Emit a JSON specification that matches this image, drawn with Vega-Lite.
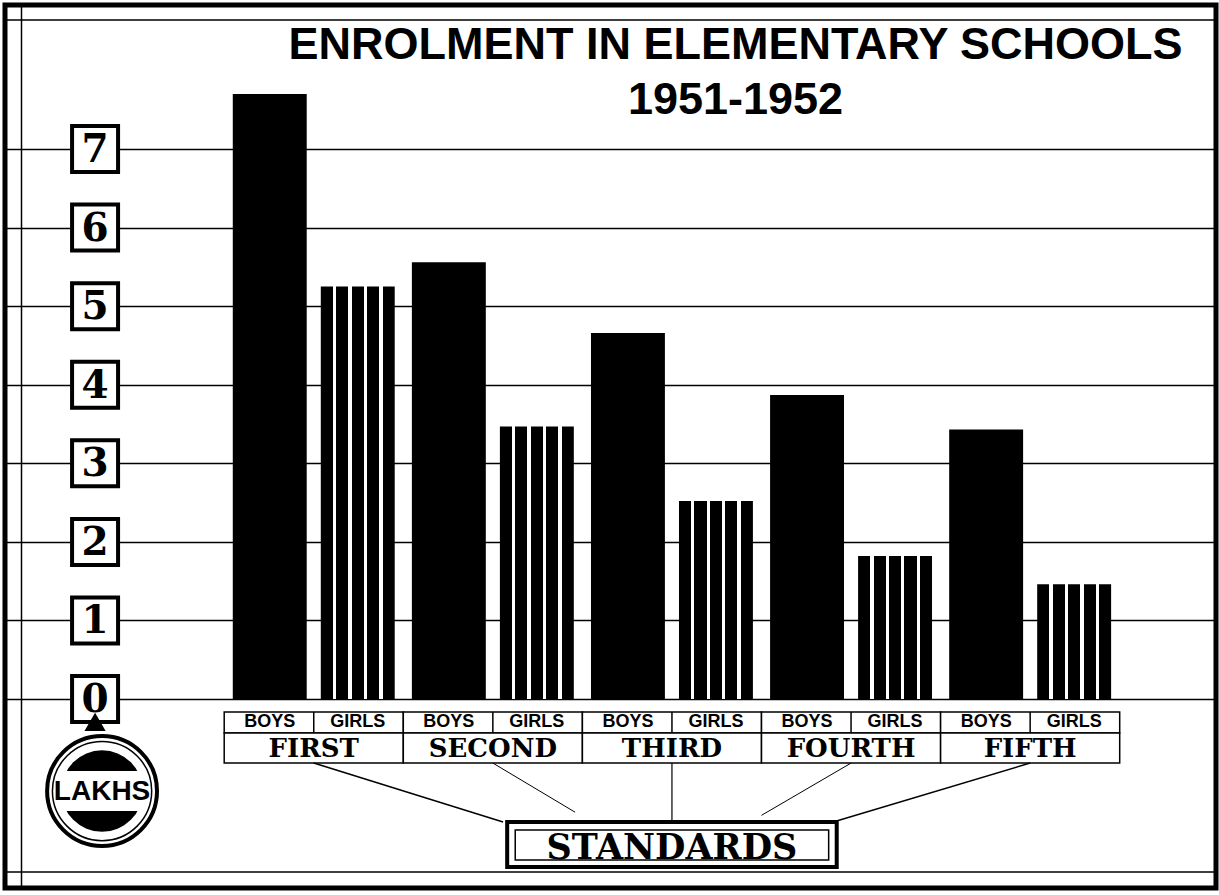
{
  "$schema": "https://vega.github.io/schema/vega-lite/v6.json",
  "width": 1211,
  "height": 883,
  "autosize": "none",
  "padding": {"left": 5, "top": 5, "right": 3, "bottom": 7},
  "background": "white",
  "config": {
    "view": {"stroke": "black", "strokeWidth": 5, "fill": "white"},
    "axisX": {"disable": true},
    "axisY": {"labels": false, "ticks": false, "titleOpacity": 0}
  },
  "title": {
    "text": "ENROLMENT IN ELEMENTARY SCHOOLS",
    "subtitle": "1951-1952",
    "anchor": "middle",
    "frame": "group",
    "dx": 125,
    "offset": -118,
    "font": "Liberation Sans",
    "fontSize": 45,
    "fontWeight": "bold",
    "color": "black",
    "subtitleFont": "Liberation Sans",
    "subtitleFontSize": 45,
    "subtitleFontWeight": "bold",
    "subtitleColor": "black",
    "subtitlePadding": 10
  },
  "datasets": {
    "bars": [
      {"standard": "FIRST", "sex": "BOYS", "lakhs": 7.70},
      {"standard": "FIRST", "sex": "GIRLS", "lakhs": 5.25},
      {"standard": "SECOND", "sex": "BOYS", "lakhs": 5.56},
      {"standard": "SECOND", "sex": "GIRLS", "lakhs": 3.47},
      {"standard": "THIRD", "sex": "BOYS", "lakhs": 4.66},
      {"standard": "THIRD", "sex": "GIRLS", "lakhs": 2.52},
      {"standard": "FOURTH", "sex": "BOYS", "lakhs": 3.87},
      {"standard": "FOURTH", "sex": "GIRLS", "lakhs": 1.82},
      {"standard": "FIFTH", "sex": "BOYS", "lakhs": 3.43},
      {"standard": "FIFTH", "sex": "GIRLS", "lakhs": 1.46}
    ],
    "ticks": [
      {"v": 0, "label": "0"}, {"v": 1, "label": "1"}, {"v": 2, "label": "2"}, {"v": 3, "label": "3"},
      {"v": 4, "label": "4"}, {"v": 5, "label": "5"}, {"v": 6, "label": "6"}, {"v": 7, "label": "7"}
    ],
    "standards": [
      {"standard": "FIRST"}, {"standard": "SECOND"}, {"standard": "THIRD"}, {"standard": "FOURTH"}, {"standard": "FIFTH"}
    ]
  },
  "layer": [
    {
      "data": {"name": "bars"},
      "transform": [{"filter": "datum.sex === 'BOYS'"}],
      "mark": {"type": "bar", "fill": "black"},
      "encoding": {
        "x": {"field": "standard", "type": "nominal", "title": null,
          "scale": {"type": "band", "domain": ["axis", "FIRST", "SECOND", "THIRD", "FOURTH", "FIFTH"], "paddingInner": 0, "paddingOuter": 0.3808, "align": 0.294}},
        "xOffset": {"field": "sex", "type": "nominal",
          "scale": {"type": "band", "domain": ["BOYS", "GIRLS"], "paddingInner": 0.16, "paddingOuter": 0.0975}},
        "y": {"field": "lakhs", "type": "quantitative", "title": null,
          "scale": {"domain": [-2.405, 8.833], "nice": false, "zero": false},
          "axis": {"values": [0, 1, 2, 3, 4, 5, 6, 7], "grid": true, "gridColor": "black", "gridWidth": 1.5, "gridOpacity": 1,
            "domain": true, "domainColor": "black", "domainWidth": 1.5, "offset": -16, "labels": false, "ticks": false, "title": null}}
      }
    },
    {
      "data": {"name": "bars"},
      "transform": [{"filter": "datum.sex === 'GIRLS'"}],
      "mark": {"type": "bar", "fill": {"gradient": "linear", "x1": 0, "y1": 0, "x2": 1, "y2": 0, "stops": [
        {"offset": 0, "color": "black"}, {"offset": 0.164, "color": "black"},
        {"offset": 0.164, "color": "white"}, {"offset": 0.209, "color": "white"},
        {"offset": 0.209, "color": "black"}, {"offset": 0.373, "color": "black"},
        {"offset": 0.373, "color": "white"}, {"offset": 0.418, "color": "white"},
        {"offset": 0.418, "color": "black"}, {"offset": 0.582, "color": "black"},
        {"offset": 0.582, "color": "white"}, {"offset": 0.627, "color": "white"},
        {"offset": 0.627, "color": "black"}, {"offset": 0.791, "color": "black"},
        {"offset": 0.791, "color": "white"}, {"offset": 0.836, "color": "white"},
        {"offset": 0.836, "color": "black"}, {"offset": 1, "color": "black"}
      ]}},
      "encoding": {
        "x": {"field": "standard", "type": "nominal"},
        "xOffset": {"field": "sex", "type": "nominal"},
        "y": {"field": "lakhs", "type": "quantitative", "title": null}
      }
    },
    {
      "data": {"values": [{"frame": "inner"}]},
      "mark": {"type": "rect", "fill": null, "fillOpacity": 0, "stroke": "black", "strokeWidth": 1.5},
      "encoding": {
        "y": {"datum": 8.642},
        "y2": {"datum": -2.202}
      }
    },
    {
      "data": {"name": "ticks"},
      "mark": {"type": "point", "shape": "square", "size": 2116, "filled": true, "fill": "white", "stroke": "black", "strokeWidth": 4, "opacity": 1},
      "encoding": {
        "x": {"datum": "axis", "type": "nominal", "bandPosition": 0.279},
        "y": {"field": "v", "type": "quantitative", "title": null}
      }
    },
    {
      "data": {"name": "ticks"},
      "mark": {"type": "text", "font": "DejaVu Serif", "fontWeight": "bold", "fontSize": 39, "baseline": "middle", "align": "center", "color": "black", "dy": 1},
      "encoding": {
        "x": {"datum": "axis", "type": "nominal", "bandPosition": 0.279},
        "y": {"field": "v", "type": "quantitative", "title": null},
        "text": {"field": "label"}
      }
    },
    {
      "data": {"name": "standards"},
      "mark": {"type": "bar", "fill": "white", "stroke": "black", "strokeWidth": 1.5},
      "encoding": {
        "x": {"field": "standard", "type": "nominal"},
        "y": {"datum": -0.166},
        "y2": {"datum": -0.433}
      }
    },
    {
      "data": {"name": "standards"},
      "mark": {"type": "bar", "fill": "white", "stroke": "black", "strokeWidth": 1.5},
      "encoding": {
        "x": {"field": "standard", "type": "nominal"},
        "y": {"datum": -0.433},
        "y2": {"datum": -0.815}
      }
    },
    {
      "data": {"name": "standards"},
      "mark": {"type": "rule", "stroke": "black", "strokeWidth": 1.5},
      "encoding": {
        "x": {"field": "standard", "type": "nominal"},
        "y": {"datum": -0.166},
        "y2": {"datum": -0.433}
      }
    },
    {
      "data": {"name": "bars"},
      "mark": {"type": "text", "font": "Liberation Sans", "fontWeight": "bold", "fontSize": 18, "baseline": "middle", "align": "center", "color": "black"},
      "encoding": {
        "x": {"field": "standard", "type": "nominal"},
        "xOffset": {"field": "sex", "type": "nominal"},
        "y": {"datum": -0.293},
        "text": {"field": "sex"}
      }
    },
    {
      "data": {"name": "standards"},
      "mark": {"type": "text", "font": "DejaVu Serif", "fontWeight": "bold", "fontSize": 26, "baseline": "middle", "align": "center", "color": "black"},
      "encoding": {
        "x": {"field": "standard", "type": "nominal"},
        "y": {"datum": -0.636},
        "text": {"field": "standard"}
      }
    },
    {
      "data": {"values": [{"from": "FIRST", "to": "SECOND"}]},
      "mark": {"type": "rule", "stroke": "black", "strokeWidth": 1.5},
      "encoding": {
        "x": {"field": "from", "type": "nominal", "bandPosition": 0.5},
        "x2": {"field": "to", "bandPosition": 0.557},
        "y": {"datum": -0.815},
        "y2": {"datum": -1.565}
      }
    },
    {
      "data": {"values": [{"from": "SECOND", "to": "SECOND"}]},
      "mark": {"type": "rule", "stroke": "black", "strokeWidth": 1},
      "encoding": {
        "x": {"field": "from", "type": "nominal", "bandPosition": 0.5},
        "x2": {"field": "to", "bandPosition": 0.959},
        "y": {"datum": -0.815},
        "y2": {"datum": -1.44}
      }
    },
    {
      "data": {"values": [{"from": "THIRD"}]},
      "mark": {"type": "rule", "stroke": "black", "strokeWidth": 1.2},
      "encoding": {
        "x": {"field": "from", "type": "nominal", "bandPosition": 0.5},
        "y": {"datum": -0.815},
        "y2": {"datum": -1.565}
      }
    },
    {
      "data": {"values": [{"from": "FOURTH", "to": "FOURTH"}]},
      "mark": {"type": "rule", "stroke": "black", "strokeWidth": 1},
      "encoding": {
        "x": {"field": "from", "type": "nominal", "bandPosition": 0.5},
        "x2": {"field": "to", "bandPosition": 0.0},
        "y": {"datum": -0.815},
        "y2": {"datum": -1.48}
      }
    },
    {
      "data": {"values": [{"from": "FIFTH", "to": "FOURTH"}]},
      "mark": {"type": "rule", "stroke": "black", "strokeWidth": 1.5},
      "encoding": {
        "x": {"field": "from", "type": "nominal", "bandPosition": 0.5},
        "x2": {"field": "to", "bandPosition": 0.4},
        "y": {"datum": -0.815},
        "y2": {"datum": -1.565}
      }
    },
    {
      "data": {"values": [{"label": "STANDARDS"}]},
      "mark": {"type": "bar", "fill": "white", "stroke": "black", "strokeWidth": 4, "width": {"band": 1.84}},
      "encoding": {
        "x": {"datum": "THIRD", "type": "nominal"},
        "y": {"datum": -1.565},
        "y2": {"datum": -2.138}
      }
    },
    {
      "data": {"values": [{"label": "STANDARDS"}]},
      "mark": {"type": "bar", "fill": "white", "stroke": "black", "strokeWidth": 1.5, "width": {"band": 1.75}},
      "encoding": {
        "x": {"datum": "THIRD", "type": "nominal"},
        "y": {"datum": -1.667},
        "y2": {"datum": -2.05}
      }
    },
    {
      "data": {"values": [{"label": "STANDARDS"}]},
      "mark": {"type": "text", "font": "DejaVu Serif", "fontWeight": "bold", "fontSize": 35, "baseline": "middle", "align": "center", "color": "black"},
      "encoding": {
        "x": {"datum": "THIRD", "type": "nominal"},
        "y": {"datum": -1.89},
        "text": {"field": "label"}
      }
    },
    {
      "data": {"values": [{"unit": "LAKHS"}]},
      "mark": {"type": "point", "shape": "triangle-up", "size": 450, "filled": true, "color": "black", "opacity": 1},
      "encoding": {
        "x": {"datum": "axis", "type": "nominal", "bandPosition": 0.279},
        "y": {"datum": -0.29}
      }
    },
    {
      "data": {"values": [{"unit": "LAKHS"}]},
      "mark": {"type": "point", "shape": "circle", "size": 6648, "filled": true, "color": "black", "opacity": 1},
      "encoding": {
        "x": {"datum": "axis", "type": "nominal", "bandPosition": 0.318},
        "y": {"datum": -1.171}
      }
    },
    {
      "data": {"values": [{"unit": "LAKHS"}]},
      "mark": {"type": "bar", "fill": "white"},
      "encoding": {
        "x": {"datum": "axis", "type": "nominal"},
        "y": {"datum": -0.916},
        "y2": {"datum": -1.425}
      }
    },
    {
      "data": {"values": [{"unit": "LAKHS"}]},
      "mark": {"type": "point", "shape": "circle", "size": 12076, "filled": false, "stroke": "black", "strokeWidth": 4, "opacity": 1},
      "encoding": {
        "x": {"datum": "axis", "type": "nominal", "bandPosition": 0.318},
        "y": {"datum": -1.171}
      }
    },
    {
      "data": {"values": [{"unit": "LAKHS"}]},
      "mark": {"type": "point", "shape": "circle", "size": 9852, "filled": false, "stroke": "black", "strokeWidth": 1.5, "opacity": 1},
      "encoding": {
        "x": {"datum": "axis", "type": "nominal", "bandPosition": 0.318},
        "y": {"datum": -1.171}
      }
    },
    {
      "data": {"values": [{"unit": "LAKHS"}]},
      "mark": {"type": "text", "font": "Liberation Sans", "fontWeight": "bold", "fontSize": 28, "baseline": "middle", "align": "center", "color": "black"},
      "encoding": {
        "x": {"datum": "axis", "type": "nominal", "bandPosition": 0.318},
        "y": {"datum": -1.184},
        "text": {"field": "unit"}
      }
    }
  ]
}
